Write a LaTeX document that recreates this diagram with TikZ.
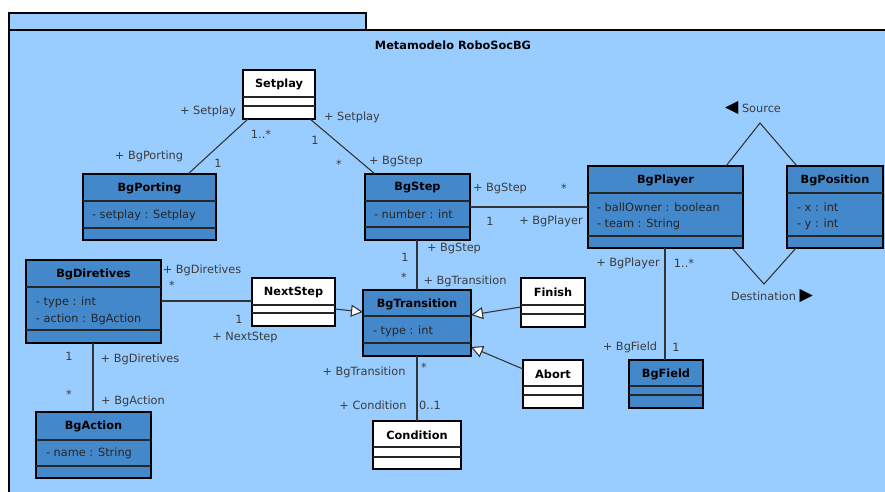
\documentclass[tikz,border=0pt]{standalone}
\usepackage{fontspec}
\setmainfont{DejaVu Sans}
\usetikzlibrary{fit,arrows.meta}
\definecolor{pkgblue}{RGB}{153,204,255}
\definecolor{clsblue}{RGB}{68,136,204}
\definecolor{lblgray}{RGB}{60,60,60}

\begin{document}
\begin{tikzpicture}[x=0.75pt, y=-0.75pt,
  every node/.style={font=\fontsize{8.5}{10}\selectfont, inner sep=0pt, outer sep=0pt},
  classbox/.style={draw=black, line width=1.3pt},
  bluebox/.style={classbox, fill=clsblue},
  whitebox/.style={classbox, fill=white},
  ctitle/.style={font=\fontsize{8.5}{10}\selectfont\bfseries},
  cattr/.style={anchor=west, text=black!85},
  lbl/.style={text=lblgray},
  assoc/.style={draw=black!80, line width=0.8pt},
  gen/.style={assoc, -{Triangle[length=9pt, width=9pt, fill=white]}},
  sep/.style={draw=black!85, line width=0.9pt}]
\useasboundingbox (0,0) rectangle (885,492);
\fill[white] (0,0) rectangle (885,492);
\clip (0,0) rectangle (885,492);
\draw[fill=pkgblue, line width=1.2pt] (9,13) rectangle (366,30);
\draw[fill=pkgblue, line width=1.2pt] (9,30) rectangle (900,510);
\node[ctitle] (pkgname) at (453,45) {Metamodelo RoboSocBG};

\node[whitebox, fit={(243,70) (315,119)}] (setplay) {};
\draw[sep] (243,97) -- (315,97) (243,106) -- (315,106);
\node[ctitle] (setplay-t) at (279,84) {Setplay};

\node[bluebox, fit={(83,174) (216,240)}] (bgporting) {};
\draw[sep] (83,201) -- (216,201) (83,228) -- (216,228);
\node[ctitle] (bgporting-t) at (149.5,188) {BgPorting};
\node[cattr] (bgporting-a) at (92,215) {- setplay : Setplay};

\node[bluebox, fit={(365,174) (470,240)}] (bgstep) {};
\draw[sep] (365,201) -- (470,201) (365,227) -- (470,227);
\node[ctitle] (bgstep-t) at (417.5,188) {BgStep};
\node[cattr] (bgstep-a) at (374,214) {- number : int};

\node[bluebox, fit={(588,166) (743,248)}] (bgplayer) {};
\draw[sep] (588,193) -- (743,193) (588,236) -- (743,236);
\node[ctitle] (bgplayer-t) at (665.5,180) {BgPlayer};
\node[cattr] (bgplayer-a1) at (597,207) {- ballOwner : boolean};
\node[cattr] (bgplayer-a2) at (597,224) {- team : String};

\node[bluebox, fit={(787,166) (883,248)}] (bgposition) {};
\draw[sep] (787,193) -- (883,193) (787,236) -- (883,236);
\node[ctitle] (bgposition-t) at (835,180) {BgPosition};
\node[cattr] (bgposition-a1) at (797,207) {- x : int};
\node[cattr] (bgposition-a2) at (797,224) {- y : int};

\node[bluebox, fit={(26,260) (161,343)}] (bgdiretives) {};
\draw[sep] (26,287) -- (161,287) (26,330) -- (161,330);
\node[ctitle] (bgdiretives-t) at (93.5,274) {BgDiretives};
\node[cattr] (bgdiretives-a1) at (36,302) {- type : int};
\node[cattr] (bgdiretives-a2) at (36,319) {- action : BgAction};

\node[bluebox, fit={(36,412) (151,478)}] (bgaction) {};
\draw[sep] (36,440) -- (151,440) (36,466) -- (151,466);
\node[ctitle] (bgaction-t) at (93.5,426) {BgAction};
\node[cattr] (bgaction-a) at (46,453) {- name : String};

\node[whitebox, fit={(252,278) (335,326)}] (nextstep) {};
\draw[sep] (252,305) -- (335,305) (252,313) -- (335,313);
\node[ctitle] (nextstep-t) at (293.5,292) {NextStep};

\node[bluebox, fit={(363,290) (471,356)}] (bgtransition) {};
\draw[sep] (363,316) -- (471,316) (363,343) -- (471,343);
\node[ctitle] (bgtransition-t) at (417,304) {BgTransition};
\node[cattr] (bgtransition-a) at (373,331) {- type : int};

\node[whitebox, fit={(521,278) (585,327)}] (finish) {};
\draw[sep] (521,305) -- (585,305) (521,314) -- (585,314);
\node[ctitle] (finish-t) at (553,292) {Finish};

\node[whitebox, fit={(523,360) (583,408)}] (abort) {};
\draw[sep] (523,386) -- (583,386) (523,395) -- (583,395);
\node[ctitle] (abort-t) at (553,374) {Abort};

\node[bluebox, fit={(629,360) (703,408)}] (bgfield) {};
\draw[sep] (629,386) -- (703,386) (629,395) -- (703,395);
\node[ctitle] (bgfield-t) at (666,374) {BgField};

\node[whitebox, fit={(373,421) (461,469)}] (condition) {};
\draw[sep] (373,447) -- (461,447) (373,457) -- (461,457);
\node[ctitle] (condition-t) at (417,435) {Condition};

\draw[assoc] (248,0 |- setplay.south) -- (188,0 |- bgporting.north);
\draw[assoc] (310,0 |- setplay.south) -- (375,0 |- bgstep.north);
\draw[assoc] (bgstep.east |- 0,207) -- (bgplayer.west |- 0,207);
\draw[assoc] (417,0 |- bgstep.south) -- (417,0 |- bgtransition.north);
\draw[assoc] (bgdiretives.east |- 0,301) -- (nextstep.west |- 0,301);
\draw[assoc] (93,0 |- bgdiretives.south) -- (93,0 |- bgaction.north);
\draw[assoc] (417,0 |- bgtransition.south) -- (417,0 |- condition.north);
\draw[assoc] (665,0 |- bgplayer.south) -- (665,0 |- bgfield.north);
\draw[assoc] (726,0 |- bgplayer.north) -- (760,123) -- (797,0 |- bgposition.north);
\draw[assoc] (732,0 |- bgplayer.south) -- (764,284) -- (796,0 |- bgposition.south);
\draw[gen] (nextstep.east |- 0,309) -- (bgtransition.west |- 0,312);
\draw[gen] (finish.west |- 0,307) -- (bgtransition.east |- 0,315);
\draw[gen] (abort.west |- 0,369) -- (bgtransition.east |- 0,347);

\node[lbl] (l1) at (208,111) {+ Setplay};
\node[lbl] (l2) at (261,134) {1..*};
\node[lbl] (l3) at (149,156) {+ BgPorting};
\node[lbl] (l4) at (218,163) {1};
\node[lbl] (l5) at (352,117) {+ Setplay};
\node[lbl] (l6) at (315,140) {1};
\node[lbl] (l7) at (339,164) {*};
\node[lbl] (l8) at (396,161) {+ BgStep};
\node[lbl] (l9) at (500,188) {+ BgStep};
\node[lbl] (l10) at (564,188) {*};
\node[lbl] (l11) at (490,221) {1};
\node[lbl] (l12) at (551,221) {+ BgPlayer};
\node[lbl] (l13) at (405,257) {1};
\node[lbl] (l14) at (454,248) {+ BgStep};
\node[lbl] (l15) at (404,277) {*};
\node[lbl] (l16) at (465,281) {+ BgTransition};
\node[lbl] (l17) at (202,270) {+ BgDiretives};
\node[lbl] (l18) at (172,285) {*};
\node[lbl] (l19) at (239,319) {1};
\node[lbl] (l20) at (245,337) {+ NextStep};
\node[lbl] (l21) at (69,356) {1};
\node[lbl] (l22) at (140,359) {+ BgDiretives};
\node[lbl] (l23) at (69,394) {*};
\node[lbl] (l24) at (133,401) {+ BgAction};
\node[lbl] (l25) at (364,372) {+ BgTransition};
\node[lbl] (l26) at (424,367) {*};
\node[lbl] (l27) at (373,405) {+ Condition};
\node[lbl] (l28) at (430,405) {0..1};
\node[lbl] (l29) at (628,263) {+ BgPlayer};
\node[lbl] (l30) at (684,263) {1..*};
\node[lbl] (l31) at (630,347) {+ BgField};
\node[lbl] (l32) at (676,347) {1};
\node[lbl] (source) at (753,108) {{\fontsize{13}{13}\selectfont\textcolor{black}{◀}} Source};
\node[lbl] (destination) at (772,296) {Destination {\fontsize{13}{13}\selectfont\textcolor{black}{▶}}};
\end{tikzpicture}
\end{document}
